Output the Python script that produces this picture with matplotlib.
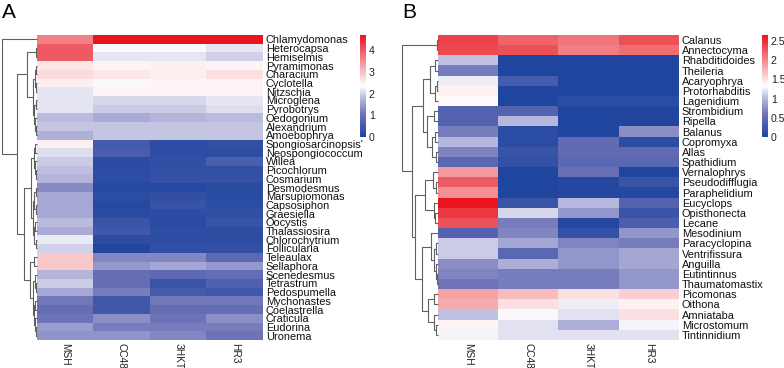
import numpy as np
import matplotlib.pyplot as plt
from matplotlib.colors import LinearSegmentedColormap

plt.rcParams['font.family'] = ['Liberation Sans', 'DejaVu Sans']

samples = ["MSH", "CC48", "3HKT", "HR3"]

# panel A
genera_a = ["Chlamydomonas", "Heterocapsa", "Hemiselmis", "Pyramimonas", "Characium",
            "Cyclotella", "Nitzschia", "Microglena", "Pyrobotrys", "Oedogonium",
            "Alexandrium", "Amoebophrya", "Spongiosarcinopsis'", "Neospongiococcum",
            "Willea", "Picochlorum", "Cosmarium", "Desmodesmus", "Marsupiomonas",
            "Capsosiphon", "Graesiella", "Oocystis", "Thalassiosira", "Chlorochytrium",
            "Follicularia", "Teleaulax", "Sellaphora", "Scenedesmus", "Tetrastrum",
            "Pedospumella", "Mychonastes", "Coelastrella", "Craticula", "Eudorina", "Uronema"]
vals_a = [
    [3.6, 4.7, 4.7, 4.7],
    [4.0, 2.3, 2.3, 2.15],
    [4.0, 2.15, 2.15, 2.0],
    [2.6, 2.45, 2.5, 2.45],
    [2.7, 2.6, 2.5, 2.65],
    [2.5, 2.3, 2.45, 2.45],
    [2.15, 2.45, 2.45, 2.45],
    [2.15, 2.05, 2.05, 2.15],
    [2.15, 1.95, 1.95, 2.1],
    [1.8, 1.65, 1.75, 1.8],
    [1.9, 1.9, 1.9, 1.9],
    [1.7, 1.9, 1.9, 1.9],
    [2.5, 0.5, 0.2, 0.25],
    [2.1, 0.6, 0.2, 0.2],
    [1.95, 0.15, 0.25, 0.6],
    [1.85, 0.2, 0.25, 0.25],
    [1.75, 0.2, 0.3, 0.3],
    [1.3, 0.1, 0.1, 0.15],
    [1.6, 0.2, 0.25, 0.15],
    [1.6, 0.1, 0.35, 0.2],
    [1.6, 0.15, 0.2, 0.25],
    [1.8, 0.35, 0.15, 0.35],
    [1.65, 0.45, 0.2, 0.2],
    [2.2, 0.2, 0.2, 0.2],
    [2.0, 0.05, 0.25, 0.25],
    [2.9, 1.25, 1.25, 0.85],
    [2.9, 1.45, 1.6, 1.45],
    [1.75, 0.95, 0.85, 0.95],
    [1.95, 0.95, 0.35, 0.65],
    [1.6, 1.15, 0.5, 0.45],
    [1.1, 0.45, 1.1, 1.1],
    [0.95, 0.45, 0.95, 0.95],
    [1.05, 1.35, 1.05, 1.35],
    [1.5, 1.15, 1.15, 1.15],
    [1.4, 1.4, 1.25, 1.05],
]
# dendrogram A: (height, left, right), leaves are row indices
tree_a = (1.0, 0,
          (0.57,
           (0.29, (0.03, 1, 2),
            (0.11, (0.05, (0.02, 3, 4), (0.03, 5, 6)),
             (0.08, (0.03, 7, 8), (0.05, 9, (0.02, 10, 11))))),
           (0.37,
            (0.17, (0.10, (0.05, 12, 13), (0.07, 14, (0.04, 15, 16))),
             (0.12, (0.08, (0.04, 17, 18), (0.03, 19, 20)),
              (0.09, (0.05, 21, 22), (0.04, 23, 24)))),
            (0.20, (0.09, 25, 26),
             (0.12, (0.06, 27, (0.03, 28, 29)),
              (0.08, (0.05, 30, 31), (0.06, 32, (0.03, 33, 34))))))))

# panel B
genera_b = ["Calanus", "Annectocyma", "Rhabditidoides", "Theileria", "Acaryophrya",
            "Protorhabditis", "Lagenidium", "Strombidium", "Ripella", "Balanus",
            "Copromyxa", "Allas", "Spathidium", "Vernalophrys", "Pseudodifflugia",
            "Paraphelidium", "Eucyclops", "Opisthonecta", "Lecane", "Mesodinium",
            "Paracyclopina", "Ventrifissura", "Anguilla", "Eutintinnus", "Thaumatomastix",
            "Picomonas", "Oithona", "Amniataba", "Microstomum", "Tintinnidium"]
vals_b = [
    [2.4, 2.2, 2.1, 2.3],
    [2.35, 2.3, 2.05, 2.15],
    [1.05, 0.0, 0.0, 0.0],
    [0.65, 0.0, 0.0, 0.0],
    [1.25, 0.3, 0.0, 0.0],
    [1.4, 0.0, 0.0, 0.0],
    [1.35, 0.0, 0.1, 0.1],
    [0.4, 0.4, 0.0, 0.0],
    [0.4, 1.0, 0.0, 0.0],
    [0.65, 0.1, 0.0, 0.75],
    [1.0, 0.1, 0.5, 0.1],
    [0.7, 0.2, 0.5, 0.5],
    [0.45, 0.15, 0.45, 0.45],
    [1.9, 0.0, 0.55, 0.0],
    [2.25, 0.0, 0.05, 0.2],
    [1.95, 0.0, 0.05, 0.05],
    [2.65, 0.2, 1.0, 0.4],
    [2.45, 1.15, 0.8, 0.2],
    [2.3, 0.65, 0.05, 0.35],
    [0.4, 0.7, 0.15, 0.8],
    [1.1, 0.9, 0.7, 0.65],
    [1.1, 0.45, 0.8, 0.9],
    [0.75, 0.95, 0.8, 0.9],
    [0.7, 0.65, 0.65, 0.8],
    [0.6, 0.65, 0.65, 0.8],
    [1.85, 1.7, 1.5, 1.6],
    [1.8, 1.5, 1.25, 1.4],
    [1.05, 1.3, 1.2, 1.5],
    [1.38, 1.2, 0.95, 1.28],
    [1.28, 1.2, 1.2, 1.2],
]
tree_b = (1.0, (0.03, 0, 1),
          (0.72,
           (0.42,
            (0.22, (0.08, 2, 3), (0.07, (0.04, 4, 5), 6)),
            (0.30, (0.10, 7, 8), (0.18, (0.08, 9, 10), (0.05, 11, 12)))),
           (0.64,
            (0.36, (0.15, 13, (0.06, 14, 15)), (0.12, 16, (0.07, 17, 18))),
            (0.44,
             (0.20, 19, (0.12, (0.05, 20, 21), (0.06, 22, (0.03, 23, 24)))),
             (0.28, (0.10, 25, 26), (0.12, 27, (0.05, 28, 29)))))))

cmap = LinearSegmentedColormap.from_list(
    "bwr2", [(0.0, "#1f459f"), (0.22, "#6d72b8"), (0.4, "#c2c2e2"),
             (0.5, "#ffffff"), (1.0, "#e8151e")])

W, H = 784, 368


def box(x0, y0, x1, y1):
    return [x0 / W, 1 - y1 / H, (x1 - x0) / W, (y1 - y0) / H]


def draw_tree(ax, node):
    if isinstance(node, int):
        return node + 0.5, 0.0
    h, left, right = node
    y1, h1 = draw_tree(ax, left)
    y2, h2 = draw_tree(ax, right)
    ax.plot([h1, h, h, h2], [y1, y1, y2, y2], color="#606060", lw=0.8,
            clip_on=False, solid_capstyle="butt")
    return (y1 + y2) / 2, h


def panel(fig, names, vals, tree, vmax, ticks, hx, dx, cx, letter, lx):
    data = np.array(vals)
    n = len(names)
    ax = fig.add_axes(box(hx[0], 35, hx[1], 340))
    ax.imshow(data, cmap=cmap, vmin=0, vmax=vmax, aspect="auto",
              interpolation="nearest")
    ax.set_yticks(range(n))
    ax.set_yticklabels(names, fontsize=7.9, color="#111111")
    ax.yaxis.tick_right()
    ax.set_xticks(range(len(samples)))
    ax.set_xticklabels(samples, rotation=-90, fontsize=7.3, color="#222222")
    ax.tick_params(length=0, pad=2)
    for s in ax.spines.values():
        s.set_visible(False)

    dax = fig.add_axes(box(dx, 35, hx[0], 340))
    draw_tree(dax, tree)
    dax.set_xlim(1, 0)
    dax.set_ylim(n, 0)
    dax.axis("off")

    cax = fig.add_axes(box(cx, 35, cx + 6, 137))
    sm = plt.cm.ScalarMappable(cmap=cmap, norm=plt.Normalize(0, vmax))
    cb = fig.colorbar(sm, cax=cax, ticks=ticks)
    cb.outline.set_visible(False)
    cb.ax.set_yticklabels([f"{t:g}" for t in ticks])
    cb.ax.tick_params(length=0, labelsize=7.6, labelcolor="#222222", pad=2)

    fig.text(lx / W, 1 - 3 / H, letter, fontsize=15, va="top", ha="left")


fig = plt.figure(figsize=(W / 100, H / 100), dpi=100)
panel(fig, genera_a, vals_a, tree_a, 4.7, [0, 1, 2, 3, 4],
      (37, 263), 2, 360, "A", 2)
panel(fig, genera_b, vals_b, tree_b, 2.65, [0, 0.5, 1, 1.5, 2, 2.5],
      (438, 679), 402, 762, "B", 402)
fig.savefig("out.png", dpi=100)
